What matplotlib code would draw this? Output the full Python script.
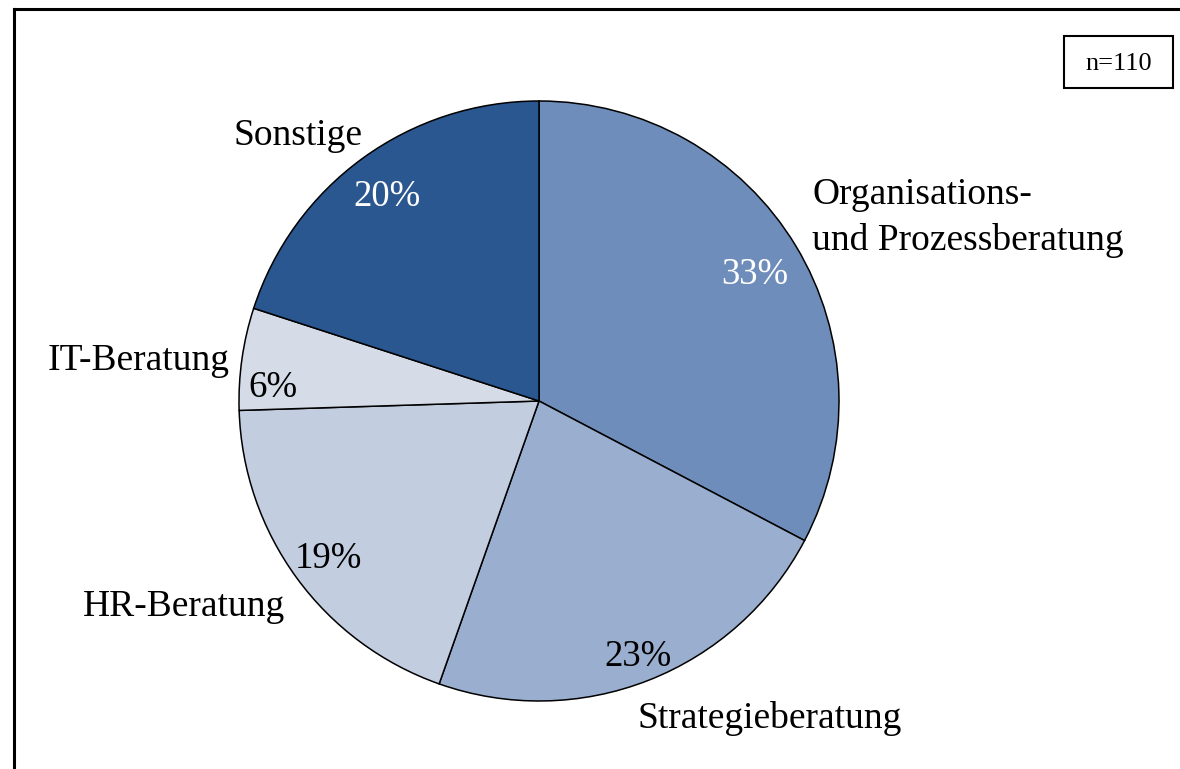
import matplotlib.pyplot as plt
import numpy as np

plt.rcParams['font.family'] = ['Liberation Serif', 'DejaVu Serif']

categories = ['Organisations-\nund Prozessberatung', 'Strategieberatung',
              'HR-Beratung', 'IT-Beratung', 'Sonstige']
shares = [32.7, 22.7, 19.1, 5.5, 20.0]
pct_labels = ['33%', '23%', '19%', '6%', '20%']
colors = ['#6E8DBA', '#9AAFD0', '#C2CDE0', '#D5DCE8', '#2A578F']
pct_colors = ['white', 'black', 'black', 'black', 'white']

W, H = 1180, 769
cx, cy, R = 539, 401, 300

fig = plt.figure(figsize=(W / 100, H / 100), dpi=100)
ax = fig.add_axes([0, 0, 1, 1])

wedges, _ = ax.pie(shares, colors=colors, startangle=90, counterclock=False,
                   radius=1, wedgeprops=dict(edgecolor='black', linewidth=1.1))
ax.set_aspect('auto')
ax.set_xlim(-cx / R, (W - cx) / R)
ax.set_ylim(-(H - cy) / R, cy / R)
ax.axis('off')


def px(x, y):
    return (x - cx) / R, (cy - y) / R


# percent labels, along the middle of each wedge
pct_r = [0.84, 0.90, 0.87, 0.89, 0.86]
pct_da = [0, 0, 0, 4.5, 0]
for w, lab, c, r, da in zip(wedges, pct_labels, pct_colors, pct_r, pct_da):
    a = np.deg2rad((w.theta1 + w.theta2) / 2 + da)
    ax.text(r * np.cos(a), r * np.sin(a) - 4 / R, lab, color=c, fontsize=26.5,
            ha='center', va='center')

# category labels
label_pos = [(812, 218, 'left'), (770, 718, 'center'), (285, 607, 'right'),
             (230, 361, 'right'), (298, 136, 'center')]
for name, (x, y, ha) in zip(categories, label_pos):
    ax.text(*px(x, y), name, fontsize=27, ha=ha, va='center', linespacing=1.42)

# n box
fig.add_artist(plt.Rectangle((1064 / W, 1 - 88 / H), 109 / W, 52 / H,
                             fc='white', ec='black', lw=1.5))
fig.text(1119 / W, 1 - 64 / H, 'n=110', fontsize=19, ha='center', va='center')

# frame (left and top edges)
fig.add_artist(plt.Line2D([14 / W, 14 / W], [0, 1 - 9 / H], color='black', lw=2.2))
fig.add_artist(plt.Line2D([14 / W, 1], [1 - 9 / H, 1 - 9 / H], color='black', lw=2.2))

fig.savefig('out.png', dpi=100)
